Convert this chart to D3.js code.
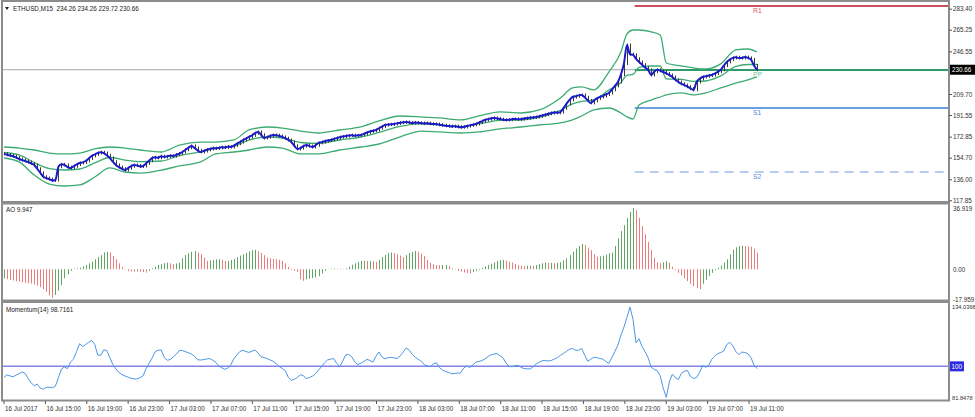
<!DOCTYPE html>
<html>
<head>
  <script src="https://d3js.org/d3.v7.min.js"></script>
  <style>
    body {
      margin: 0;
      background-color: #ffffff;
      overflow: hidden;
    }
    text {
      user-select: none;
    }
  </style>
</head>
<body>
  <script>
    // ETHUSD M15 closes, one per bar
    const closes = [
      158.0,157.2,156.5,155.9,154.8,153.5,152.6,151.8,150.9,149.7,148.4,145.1,141.6,138.2,
      137.0,136.1,135.0,135.4,146.9,148.9,148.4,146.5,145.8,147.2,148.8,150.1,150.6,151.8,
      153.9,156.2,157.5,158.7,159.4,158.7,156.8,154.4,151.2,148.4,146.5,145.1,144.0,
      145.6,147.3,148.4,147.9,147.1,147.5,149.8,152.1,154.4,155.0,154.6,155.9,155.3,
      155.8,156.4,156.1,157.3,158.2,159.6,161.5,163.2,164.8,163.1,161.0,159.6,
      160.4,161.5,162.2,162.9,162.6,163.1,163.7,163.4,164.2,163.9,165.1,166.8,168.2,
      169.9,171.2,172.6,174.0,175.8,176.9,174.5,171.7,172.4,173.5,174.3,
      174.0,173.4,172.6,171.5,170.0,168.2,165.0,162.2,163.0,164.6,165.6,
      164.7,163.9,165.4,167.4,168.1,168.9,169.5,169.9,170.8,171.6,
      172.4,172.9,173.4,173.8,174.1,173.7,174.0,174.3,175.2,176.4,177.3,177.9,178.6,180.1,181.6,182.9,
      183.3,183.5,183.8,184.3,184.9,185.2,185.5,185.0,184.6,185.1,184.8,184.6,
      184.2,184.5,184.0,183.7,183.8,183.1,182.7,182.3,182.0,181.6,181.9,181.4,181.0,181.2,
      182.0,182.6,183.1,183.8,185.0,186.1,187.2,187.9,188.5,189.0,188.6,188.0,187.5,187.2,
      187.5,187.9,188.2,187.8,188.1,188.5,188.9,189.3,189.5,189.8,190.4,191.2,191.9,192.6,193.3,
      193.8,193.5,194.1,197.5,201.2,204.6,207.1,207.8,208.5,208.8,206.9,204.2,202.0,
      203.8,205.9,207.1,207.9,209.3,210.5,213.4,216.8,220.1,226.5,236.0,252.0,244.0,
      243.5,240.1,237.4,235.0,232.6,230.6,226.1,228.9,230.6,229.8,228.7,
      227.5,226.1,224.4,222.0,220.1,218.5,217.4,216.0,214.5,213.2,220.1,222.8,224.4,
      225.0,225.7,226.1,227.4,228.9,230.6,234.2,237.4,239.4,240.9,
      241.5,240.8,240.9,241.6,240.9,239.5,234.3,230.66
    ];

    // Bollinger band envelope read at sample bars
    const bandIdx = [0,5,10,15,20,25,30,35,40,45,52,58,65,70,76,81,87,92,98,104,
      111,118,124,131,138,144,151,157,164,171,177,184,188,191,195,200,204,206,208,210,
      214,217,219,224,228,232,237,242,246,249];
    const bandUpper = [163.9,163.0,161.3,158.7,157.9,158.7,162.2,163.9,163.0,161.3,
      159.6,165.6,168.2,168.2,170.0,178.6,181.2,180.3,177.7,176.0,
      178.6,181.2,186.4,190.7,189.9,189.0,187.3,190.7,194.2,193.3,
      195.9,206.3,214.9,215.8,213.2,228.7,246.0,261.6,265.0,265.0,
      263.3,260.7,236.5,233.9,232.2,231.3,235.7,247.8,248.6,246.0];
    const bandLower = [154.4,151.0,139.7,131.9,130.2,131.1,138.0,145.8,142.3,141.4,
      144.0,147.5,151.0,157.9,159.6,161.3,163.9,163.0,157.9,157.9,
      161.3,163.9,166.5,172.6,177.7,176.9,176.0,176.9,179.5,181.2,
      182.9,184.7,187.3,190.7,195.9,197.6,193.3,189.9,188.1,200.2,
      204.5,207.1,208.9,210.6,208.9,210.6,214.9,219.2,221.8,224.4];

    const aoValues = [
      -5.5,-6.0,-6.4,-6.8,-7.2,-7.5,-7.9,-8.2,-8.5,-8.7,
      -9.0,-9.8,-10.8,-12.0,-13.6,-15.8,-17.2,-15.5,-13.0,-9.5,
      -5.5,-3.0,-1.0,0.3,0.5,1.0,1.8,2.6,3.6,4.6,
      6.0,7.4,8.5,10.2,10.5,10.0,8.0,6.0,3.6,1.5,
      0.3,-1.2,-1.4,-1.5,-1.3,-1.5,-1.8,-2.0,-1.0,0.5,
      1.5,2.6,3.1,3.7,4.0,3.5,3.0,3.5,4.0,6.5,
      8.5,9.5,10.5,11.0,10.2,9.0,7.0,5.0,5.2,5.6,
      6.0,6.0,5.5,5.0,5.0,5.6,6.2,7.2,8.2,9.0,
      9.8,10.8,11.5,11.7,10.8,9.8,8.5,7.0,6.6,6.2,
      6.0,5.6,5.0,3.5,1.5,-0.5,-1.0,-1.5,-6.0,-7.0,
      -6.2,-5.8,-5.4,-5.0,-4.2,-2.5,-1.0,0.0,0.3,0.4,
      0.2,0.3,0.2,0.5,1.5,2.7,3.6,4.4,5.0,5.1,
      5.0,5.0,4.8,4.5,5.5,7.3,8.6,9.6,10.1,9.7,
      9.0,8.2,7.3,8.5,9.8,10.5,11.0,10.4,9.5,8.0,
      5.5,4.0,3.0,2.5,2.4,2.5,2.6,2.0,0.6,-0.3,
      -1.0,-1.5,-2.0,-2.4,-2.5,-1.8,-1.0,-0.4,0.8,1.7,
      2.6,3.3,4.2,5.0,5.5,5.6,5.2,4.6,4.0,3.2,
      2.5,2.0,1.8,2.0,2.1,1.9,2.5,3.0,3.6,4.0,
      3.8,3.8,3.6,3.9,4.2,5.4,6.5,8.5,10.5,12.5,
      14.0,15.2,14.6,13.0,11.5,9.0,7.6,7.8,8.0,8.8,
      9.6,10.0,14.0,18.5,23.0,26.5,30.8,34.5,36.9,35.6,
      31.0,26.0,21.0,16.5,11.5,7.0,4.2,3.6,4.2,4.8,
      4.0,1.5,-0.5,-2.2,-3.8,-5.5,-7.2,-8.8,-10.2,-11.4,
      -12.0,-8.8,-6.5,-4.0,-2.2,-0.6,0.9,2.2,4.0,6.0,
      9.0,11.8,13.2,14.0,14.2,14.0,13.8,13.5,12.5,9.947
    ];

    const momValues = [
      93.8,95.1,94.5,94.0,95.0,95.8,96.8,96.0,93.0,90.5,
      88.9,89.8,87.5,86.9,88.0,88.0,87.7,88.7,93.5,98.5,
      99.6,98.7,102.5,104.2,108.5,113.0,111.4,112.5,113.8,114.9,
      112.6,106.5,106.3,109.5,109.0,105.0,101.0,98.5,96.5,95.3,
      94.5,93.8,93.2,92.8,92.8,93.5,94.6,98.8,101.8,104.8,
      108.4,109.3,109.4,105.0,103.5,103.9,105.5,107.0,109.2,109.0,
      108.4,107.8,107.0,105.8,103.8,103.6,103.9,104.2,104.5,103.5,
      102.3,100.3,99.2,98.3,99.0,101.0,104.3,106.5,108.5,109.2,
      108.5,108.0,108.7,109.4,107.6,105.5,105.0,104.5,103.7,102.9,
      101.5,99.9,98.8,97.6,93.8,92.0,92.6,93.6,95.2,94.6,
      93.0,93.6,94.4,95.8,97.8,99.8,102.0,103.7,104.1,104.5,
      101.8,99.8,103.0,106.6,106.8,105.5,102.5,101.0,101.8,102.8,
      104.0,103.4,102.4,105.8,108.2,105.3,104.3,105.0,105.2,104.8,
      104.5,106.0,108.2,110.5,109.3,106.8,105.2,104.0,102.9,100.9,
      100.2,99.8,101.5,102.0,99.3,97.9,97.0,96.5,95.8,95.9,
      96.1,96.3,99.0,100.3,99.4,100.8,102.3,102.8,103.3,104.2,
      105.6,106.6,107.0,107.4,106.1,104.9,102.0,99.9,99.8,100.3,
      100.6,99.4,98.7,98.6,98.5,99.8,101.4,102.4,103.3,103.3,
      103.1,103.4,104.2,105.0,106.3,107.4,108.6,109.8,110.3,109.2,
      109.2,110.3,106.5,103.0,104.0,105.2,105.0,104.5,104.2,102.8,
      101.7,105.0,108.5,112.2,117.8,122.5,128.0,134.0,127.0,113.5,
      115.8,111.4,108.4,105.0,99.5,98.2,97.6,94.5,87.5,82.2,
      91.0,95.5,93.5,92.5,96.0,97.2,97.6,94.2,93.0,93.6,
      96.5,100.4,99.5,100.5,104.0,105.8,107.3,107.9,108.8,112.5,
      113.8,111.8,108.5,106.7,108.2,107.9,107.2,105.0,100.8,98.7161
    ];

    const priceTicks = [283.40, 265.25, 246.55, 209.70, 191.55, 172.85, 154.70, 136.00, 117.85];
    const lastPrice = 230.66;
    const aoTicks = [36.919, 0, -17.959];
    const aoTickLabels = ["36.919", "0.00", "-17.959"];
    const momTicks = [134.0368, 81.8478];
    const momLevel = 100;

    const pivotNames = ["R1", "PP", "S1", "S2"];
    const pivotValues = [285.8, 230.5, 197.6, 142.3];
    const pivotColors = ["#c9505f", "#2e9a6c", "#3b7fd8", "#6d9de0"];
    const pivotLabelColors = ["#d5566b", "#6cc2a0", "#4a86d6", "#5a8ad8"];
    const pivotStart = "2017-07-19 00:00";

    const timeTicks = ["2017-07-16 11:00","2017-07-16 15:00","2017-07-16 19:00","2017-07-16 23:00",
      "2017-07-17 03:00","2017-07-17 07:00","2017-07-17 11:00","2017-07-17 15:00","2017-07-17 19:00",
      "2017-07-17 23:00","2017-07-18 03:00","2017-07-18 07:00","2017-07-18 11:00","2017-07-18 15:00",
      "2017-07-18 19:00","2017-07-18 23:00","2017-07-19 03:00","2017-07-19 07:00","2017-07-19 11:00"];
    const timeLabels = ["16 Jul 2017","16 Jul 15:00","16 Jul 19:00","16 Jul 23:00",
      "17 Jul 03:00","17 Jul 07:00","17 Jul 11:00","17 Jul 15:00","17 Jul 19:00",
      "17 Jul 23:00","18 Jul 03:00","18 Jul 07:00","18 Jul 11:00","18 Jul 15:00",
      "18 Jul 19:00","18 Jul 23:00","19 Jul 03:00","19 Jul 07:00","19 Jul 11:00"];

    const width = 975;
    const height = 417;
    const plotL = 3, plotR = 949;
    const font = "'Liberation Sans', Arial, sans-serif";
    const fs = 6.3;
    const parse = d3.timeParse("%Y-%m-%d %H:%M");

    const svg = d3.select("body").append("svg")
      .attr("width", width)
      .attr("height", height)
      .style("font-family", font);

    const x = d3.scaleLinear().domain([0, closes.length - 1]).range([4, 757]);
    const tx = d3.scaleTime()
      .domain([parse(timeTicks[0]), parse(timeTicks[timeTicks.length - 1])])
      .range([3.5, 748.5]);
    const y = d3.scaleLinear().domain([117.85, 283.40]).range([200.3, 8.7]);
    const yAO = d3.scaleLinear().domain([-17.959, 36.919]).range([299, 208]);
    const yM = d3.scaleLinear().domain([81.8478, 134.0368]).range([398, 307]);

    // panels
    const panels = [[1, 202], [203.5, 300.5], [302, 400.5]];
    svg.append("g").selectAll("rect")
      .data(panels)
      .enter().append("rect")
      .attr("x", 2)
      .attr("y", d => d[0])
      .attr("width", plotR - 2)
      .attr("height", d => d[1] - d[0])
      .attr("fill", "#fff")
      .attr("stroke", "#8c8c8c")
      .attr("stroke-width", 2);

    // bid line
    svg.append("line")
      .attr("x1", plotL).attr("x2", plotR)
      .attr("y1", y(lastPrice)).attr("y2", y(lastPrice))
      .attr("stroke", "#a6a6a6").attr("stroke-width", 1);

    // pivot levels
    const px0 = tx(parse(pivotStart));
    svg.append("g").selectAll("line")
      .data(pivotValues)
      .enter().append("line")
      .attr("x1", px0).attr("x2", plotR - 1)
      .attr("y1", d => y(d)).attr("y2", d => y(d))
      .attr("stroke", (d, i) => pivotColors[i])
      .attr("stroke-width", (d, i) => i === 3 ? 1 : (i === 2 ? 1.5 : 2))
      .attr("stroke-dasharray", (d, i) => i === 3 ? "9,6" : null);

    svg.append("g").selectAll("text")
      .data(pivotValues)
      .enter().append("text")
      .attr("x", 753)
      .attr("y", d => y(d) + 7)
      .attr("font-size", fs + 0.5)
      .attr("fill", (d, i) => pivotLabelColors[i])
      .text((d, i) => pivotNames[i]);

    // bollinger bands
    const bandMid = bandUpper.map((u, i) => (u + bandLower[i]) / 2);
    const bandLine = arr => d3.line()
      .x((d, i) => x(bandIdx[i]))
      .y(d => y(d))
      .curve(d3.curveMonotoneX)(arr);
    svg.append("g").selectAll("path")
      .data([bandUpper, bandMid, bandLower])
      .enter().append("path")
      .attr("d", d => bandLine(d))
      .attr("fill", "none")
      .attr("stroke", "#3cab72")
      .attr("stroke-width", 1.3);

    // candles (open = previous close)
    svg.append("g").selectAll("line")
      .data(closes)
      .enter().append("line")
      .attr("x1", (d, i) => Math.round(x(i)) + 0.5)
      .attr("x2", (d, i) => Math.round(x(i)) + 0.5)
      .attr("y1", (d, i) => y(Math.max(d, i ? closes[i - 1] : d)) - 1.5)
      .attr("y2", (d, i) => y(Math.min(d, i ? closes[i - 1] : d)) + 1.5)
      .attr("stroke", "#3a3a3a")
      .attr("stroke-width", 1);

    // price line
    svg.append("path")
      .datum(closes)
      .attr("d", d3.line().x((d, i) => x(i)).y(d => y(d)).curve(d3.curveMonotoneX))
      .attr("fill", "none")
      .attr("stroke", "#1b1bc9")
      .attr("stroke-width", 2);

    // AO bars
    svg.append("g").selectAll("line")
      .data(aoValues)
      .enter().append("line")
      .attr("x1", (d, i) => Math.round(x(i)) + 0.5)
      .attr("x2", (d, i) => Math.round(x(i)) + 0.5)
      .attr("y1", yAO(0))
      .attr("y2", d => yAO(d))
      .attr("stroke", (d, i) => (i > 0 && d < aoValues[i - 1]) ? "#ec7b7b" : "#5fa864")
      .attr("stroke-width", 1);

    // momentum
    svg.append("line")
      .attr("x1", plotL).attr("x2", plotR)
      .attr("y1", yM(momLevel)).attr("y2", yM(momLevel))
      .attr("stroke", "#8383e6").attr("stroke-width", 1.5);

    svg.append("path")
      .datum(momValues)
      .attr("d", d3.line().x((d, i) => x(i)).y(d => yM(d)))
      .attr("fill", "none")
      .attr("stroke", "#4a96e6")
      .attr("stroke-width", 1);

    // right axes
    const styleAxis = (size, dx) => g => {
      g.select(".domain").remove();
      g.selectAll(".tick line").attr("stroke", "#555");
      g.selectAll(".tick text")
        .attr("fill", "#333")
        .attr("font-size", size)
        .attr("font-family", font)
        .attr("x", dx);
    };

    svg.append("g")
      .attr("transform", `translate(${plotR},0)`)
      .call(d3.axisRight(y).tickValues(priceTicks).tickSize(3).tickFormat(d3.format(".2f")))
      .call(styleAxis(fs, 4));

    svg.append("g")
      .attr("transform", `translate(${plotR},0)`)
      .call(d3.axisRight(yAO).tickValues(aoTicks).tickSize(0).tickFormat((d, i) => aoTickLabels[i]))
      .call(styleAxis(fs, 4));

    svg.append("g")
      .attr("transform", `translate(${plotR},0)`)
      .call(d3.axisRight(yM).tickValues(momTicks).tickSize(0).tickFormat(d3.format(".4f")))
      .call(styleAxis(5.7, 3));

    // current price box
    svg.append("rect")
      .attr("x", plotR + 1).attr("y", y(lastPrice) - 5)
      .attr("width", 25).attr("height", 10)
      .attr("fill", "#000");
    svg.append("text")
      .attr("x", plotR + 3).attr("y", y(lastPrice) + 2.2)
      .attr("font-size", fs).attr("fill", "#fff")
      .text(lastPrice.toFixed(2));

    // momentum level box
    svg.append("rect")
      .attr("x", plotR + 1).attr("y", yM(momLevel) - 5)
      .attr("width", 14).attr("height", 10)
      .attr("fill", "#2b2be0");
    svg.append("text")
      .attr("x", plotR + 2.5).attr("y", yM(momLevel) + 2.2)
      .attr("font-size", fs).attr("fill", "#fff")
      .text(momLevel);

    // time axis
    svg.append("g")
      .attr("transform", "translate(0,401)")
      .call(d3.axisBottom(tx)
        .tickValues(timeTicks.map(parse))
        .tickSize(3)
        .tickFormat((d, i) => timeLabels[i]))
      .call(g => {
        g.select(".domain").remove();
        g.selectAll(".tick line").attr("stroke", "#555");
        g.selectAll(".tick text")
          .attr("text-anchor", "start")
          .attr("x", 1)
          .attr("fill", "#333")
          .attr("font-size", fs)
          .attr("font-family", font);
      });

    // panel titles
    svg.append("path")
      .attr("d", "M5,7 L9,7 L7,10 Z")
      .attr("fill", "#222");
    const titles = [
      ["ETHUSD,M15  234.26 234.26 229.72 230.66", 13, 11],
      ["AO 9.947", 6, 212],
      ["Momentum(14) 98.7161", 6, 312]
    ];
    svg.append("g").selectAll("text")
      .data(titles)
      .enter().append("text")
      .attr("x", d => d[1])
      .attr("y", d => d[2])
      .attr("font-size", fs)
      .attr("fill", "#222")
      .style("white-space", "pre")
      .text(d => d[0]);
  </script>
</body>
</html>
